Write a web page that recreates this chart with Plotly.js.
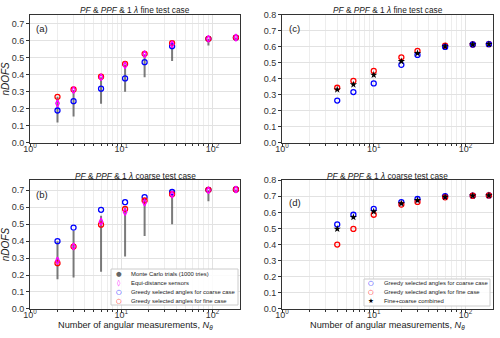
<!DOCTYPE html>
<html>
<head>
<meta charset="utf-8">
<script src="https://cdn.plot.ly/plotly-3.0.1.min.js"></script>
<style>
  html, body { margin: 0; padding: 0; background: #fff; }
  #chart { width: 500px; height: 338px; }
</style>
</head>
<body>
<div id="chart"></div>
<script>
// number of angular measurements
const fineN = [2, 3, 6, 11, 18, 36, 90, 180];
const coarseN = [4, 6, 10, 20, 30, 60, 120, 180];

// (a) fine test case
const mcMinA = [0.12, 0.155, 0.23, 0.30, 0.385, 0.48, 0.57, 0.605];
const mcMaxA = [0.27, 0.31, 0.385, 0.46, 0.52, 0.58, 0.61, 0.617];
const equiA = [0.232, 0.31, 0.385, 0.455, 0.52, 0.578, 0.61, 0.617];
const greedyCoarseA = [0.19, 0.245, 0.318, 0.378, 0.473, 0.567, 0.61, 0.617];
const greedyFineA = [0.27, 0.313, 0.388, 0.463, 0.522, 0.585, 0.61, 0.617];

// (b) coarse test case
const mcMinB = [0.175, 0.185, 0.22, 0.31, 0.43, 0.50, 0.635, 0.695];
const mcMaxB = [0.40, 0.46, 0.55, 0.60, 0.65, 0.68, 0.70, 0.705];
const equiB = [0.285, 0.368, 0.515, 0.572, 0.628, 0.675, 0.70, 0.705];
const greedyCoarseB = [0.40, 0.48, 0.585, 0.63, 0.66, 0.69, 0.703, 0.705];
const greedyFineB = [0.27, 0.368, 0.497, 0.59, 0.64, 0.677, 0.703, 0.705];

// (c) fine test case, greedy sets
const coarseC = [0.265, 0.318, 0.372, 0.488, 0.55, 0.60, 0.615, 0.617];
const fineC = [0.345, 0.388, 0.45, 0.535, 0.575, 0.607, 0.615, 0.617];
const combinedC = [0.333, 0.365, 0.425, 0.51, 0.56, 0.603, 0.615, 0.617];

// (d) coarse test case, greedy sets
const coarseD = [0.525, 0.585, 0.622, 0.664, 0.683, 0.70, 0.703, 0.705];
const fineD = [0.40, 0.497, 0.585, 0.648, 0.665, 0.693, 0.703, 0.705];
const combinedD = [0.497, 0.57, 0.605, 0.655, 0.675, 0.695, 0.703, 0.705];

const xTickVals = [1, 10, 100];
const xTickText = ['10<sup>0</sup>', '10<sup>1</sup>', '10<sup>2</sup>'];
const xMinorVals = [2, 3, 4, 5, 6, 7, 8, 9, 20, 30, 40, 50, 60, 70, 80, 90, 200];

const titleFine = '<i>PF</i> & <i>PPF</i> & 1 <i>λ</i> fine test case';
const titleCoarse = '<i>PF</i> & <i>PPF</i> & 1 <i>λ</i> coarse test case';
const xTitle = 'Number of angular measurements, <i>N</i><sub><i>θ</i></sub>';
const panelLabels = ['(a)', '(b)', '(c)', '(d)'];

const legendB = ['Monte Carlo trials (1000 tries)', 'Equi-distance sensors',
  'Greedy selected angles for coarse case', 'Greedy selected angles for fine case'];
const legendD = ['Greedy selected angles for coarse case', 'Greedy selected angles for fine case',
  'Fine+coarse combined'];

const FONT = 'Liberation Sans, Arial, sans-serif';

function mcTrace(xs, lo, hi, xa, ya) {
  const x = [], y = [];
  xs.forEach((n, i) => { x.push(n, n, null); y.push(lo[i], hi[i], null); });
  return { x, y, xaxis: xa, yaxis: ya, type: 'scatter', mode: 'lines',
    line: { color: 'rgba(90,90,90,0.8)', width: 2 }, showlegend: false, hoverinfo: 'skip' };
}
function ring(xs, ys, color, xa, ya, symbol) {
  return { x: xs, y: ys, xaxis: xa, yaxis: ya, type: 'scatter', mode: 'markers',
    marker: { symbol: symbol || 'circle-open', size: 5, color: color, line: { color: color, width: 1.3 } },
    showlegend: false };
}
function star(xs, ys, xa, ya) {
  return { x: xs, y: ys, xaxis: xa, yaxis: ya, type: 'scatter', mode: 'markers',
    marker: { symbol: 'star', size: 5.5, color: 'black' }, showlegend: false };
}

const data = [
  mcTrace(fineN, mcMinA, mcMaxA, 'x', 'y'),
  ring(fineN, greedyCoarseA, 'blue', 'x', 'y'),
  ring(fineN, greedyFineA, 'red', 'x', 'y'),
  ring(fineN, equiA, 'magenta', 'x', 'y', 'diamond-tall-open'),

  mcTrace(fineN, mcMinB, mcMaxB, 'x2', 'y2'),
  ring(fineN, greedyCoarseB, 'blue', 'x2', 'y2'),
  ring(fineN, greedyFineB, 'red', 'x2', 'y2'),
  ring(fineN, equiB, 'magenta', 'x2', 'y2', 'diamond-tall-open'),

  ring(coarseN, fineC, 'red', 'x3', 'y3'),
  ring(coarseN, coarseC, 'blue', 'x3', 'y3'),
  star(coarseN, combinedC, 'x3', 'y3'),

  ring(coarseN, coarseD, 'blue', 'x4', 'y4'),
  ring(coarseN, fineD, 'red', 'x4', 'y4'),
  star(coarseN, combinedD, 'x4', 'y4')
];

function xAxis(domain, anchor) {
  return {
    domain: domain, anchor: anchor, type: 'log', range: [0, 2.3],
    tickmode: 'array', tickvals: xTickVals, ticktext: xTickText,
    ticks: 'outside', ticklen: 3, tickcolor: '#333', ticklabelstandoff: -6,
    showgrid: true, gridcolor: '#e2e2e2', gridwidth: 1,
    minor: { tickmode: 'array', tickvals: xMinorVals, ticks: 'outside', ticklen: 2,
      tickcolor: '#333', showgrid: true, gridcolor: '#ededed' },
    showline: true, mirror: true, linecolor: '#333', linewidth: 1,
    zeroline: false, tickfont: { family: FONT, size: 9, color: '#333' }
  };
}
function yAxis(domain, anchor, top, withTitle) {
  const ax = {
    domain: domain, anchor: anchor, range: [0, top], dtick: 0.1, tickformat: '.1f',
    ticks: 'outside', ticklen: 3, tickcolor: '#333',
    showgrid: true, gridcolor: '#e2e2e2',
    showline: true, mirror: true, linecolor: '#333', linewidth: 1,
    zeroline: false, tickfont: { family: FONT, size: 9, color: '#333' }
  };
  if (withTitle) ax.title = { text: '<i>nDOFS</i>', font: { family: FONT, size: 10, color: '#222' }, standoff: 4 };
  return ax;
}

const leftDom = [0.06, 0.48], rightDom = [0.564, 0.986];
const topDom = [0.577, 0.956], botDom = [0.086, 0.467];

const annotations = [];
function note(text, x, y, opts) {
  annotations.push(Object.assign({ text: text, x: x, y: y, xref: 'paper', yref: 'paper',
    xanchor: 'center', yanchor: 'middle', showarrow: false,
    font: { family: FONT, size: 8.3, color: '#222' } }, opts || {}));
}
// panel titles
note(titleFine, 0.27, 1 - 10 / 338);
note(titleFine, 0.775, 1 - 10 / 338);
note(titleCoarse, 0.27, 1 - 176 / 338);
note(titleCoarse, 0.775, 1 - 176 / 338);
// x axis titles
note(xTitle, 0.27, 1 - 325 / 338, { font: { family: FONT, size: 9.2, color: '#222' } });
note(xTitle, 0.775, 1 - 325 / 338, { font: { family: FONT, size: 9.2, color: '#222' } });
// panel labels
const labelFont = { family: FONT, size: 9.5, color: '#222' };
note(panelLabels[0], 0.068, 1 - 29 / 338, { xanchor: 'left', font: labelFont });
note(panelLabels[1], 0.068, 1 - 195 / 338, { xanchor: 'left', font: labelFont });
note(panelLabels[2], 0.574, 1 - 29 / 338, { xanchor: 'left', font: labelFont });
note(panelLabels[3], 0.574, 1 - 202 / 338, { xanchor: 'left', font: labelFont });

// compact legends drawn as text rows
const symB = [['●', '#666'], ['◊', 'magenta'], ['○', 'blue'], ['○', 'red']];
legendB.forEach((name, i) => {
  const y = 1 - (274 + i * 8.9) / 338;
  note('<b>' + symB[i][0] + '</b>', 119 / 500, y, { font: { family: 'DejaVu Sans', size: 6.5, color: symB[i][1] } });
  note(name, 129 / 500, y, { xanchor: 'left', font: { family: FONT, size: 5.9, color: '#222' } });
});
const symD = [['○', 'blue'], ['○', 'red'], ['★', 'black']];
legendD.forEach((name, i) => {
  const y = 1 - (283.3 + i * 8.7) / 338;
  note('<b>' + symD[i][0] + '</b>', 371 / 500, y, { font: { family: 'DejaVu Sans', size: 6.5, color: symD[i][1] } });
  note(name, 382 / 500, y, { xanchor: 'left', font: { family: FONT, size: 5.9, color: '#222' } });
});

const shapes = [
  { type: 'rect', xref: 'paper', yref: 'paper', x0: 111 / 500, x1: 238 / 500,
    y0: 1 - 305 / 338, y1: 1 - 269 / 338, line: { color: '#cccccc', width: 1 }, fillcolor: 'rgba(255,255,255,0.85)' },
  { type: 'rect', xref: 'paper', yref: 'paper', x0: 364 / 500, x1: 490 / 500,
    y0: 1 - 306 / 338, y1: 1 - 279 / 338, line: { color: '#cccccc', width: 1 }, fillcolor: 'rgba(255,255,255,0.85)' }
];

const layout = {
  width: 500, height: 338,
  margin: { l: 0, r: 0, t: 0, b: 0 },
  paper_bgcolor: 'white', plot_bgcolor: 'white',
  showlegend: false,
  xaxis: xAxis(leftDom, 'y'),
  yaxis: yAxis(topDom, 'x', 0.75, true),
  xaxis2: xAxis(leftDom, 'y2'),
  yaxis2: yAxis(botDom, 'x2', 0.76, true),
  xaxis3: xAxis(rightDom, 'y3'),
  yaxis3: yAxis(topDom, 'x3', 0.8, false),
  xaxis4: xAxis(rightDom, 'y4'),
  yaxis4: yAxis(botDom, 'x4', 0.8, false),
  annotations: annotations,
  shapes: shapes
};

Plotly.newPlot('chart', data, layout, { displayModeBar: false, staticPlot: true });
</script>
</body>
</html>
